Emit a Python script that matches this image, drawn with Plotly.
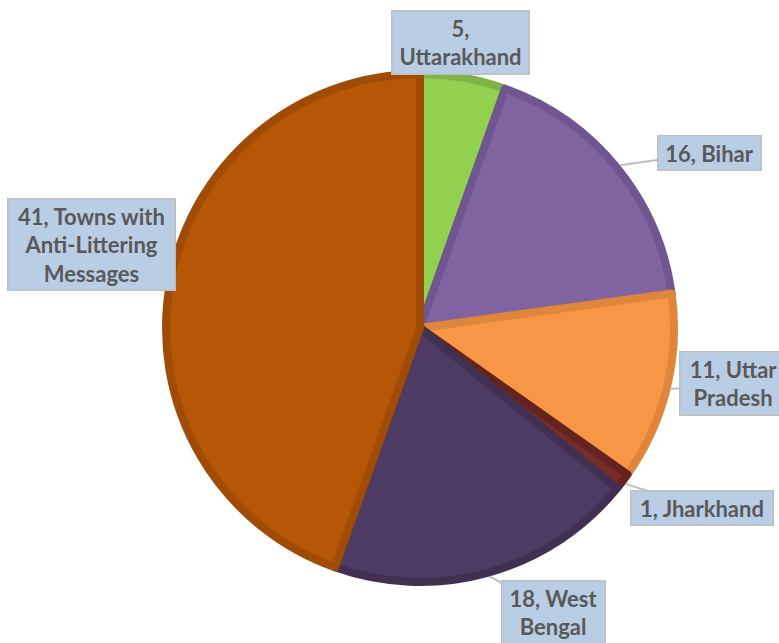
import math
import plotly.graph_objects as go

# ---- data ----
states = ["Uttarakhand", "Bihar", "Uttar Pradesh", "Jharkhand", "West Bengal",
          "Towns with Anti-Littering Messages"]
towns = [5, 16, 11, 1, 18, 41]
label_texts = ["5,<br>Uttarakhand", "16, Bihar", "11, Uttar<br>Pradesh",
               "1, Jharkhand", "18, West<br>Bengal",
               "41, Towns with<br>Anti-Littering<br>Messages"]

fill_colors = ["#92d050", "#8064a2", "#f79646", "#772c2a", "#4d3b63", "#b65708"]
edge_colors = ["#7db445", "#6f5690", "#e0863c", "#65231f", "#403153", "#a04b06"]

W, H = 779, 643
CX, CY, R = 420, 328, 258      # pie centre / outer radius in pixels
LW = 8                          # slice border width

# label box centres (pixels) and text widths
box_centres = [(461, 43), (709, 153), (733, 383), (702, 508), (553, 612), (91, 244)]
box_widths = [130, 96, 100, 135, 96, 160]

r_in = R - LW / 2
fig = go.Figure(go.Pie(
    labels=states,
    values=towns,
    sort=False,
    direction="clockwise",
    rotation=0,
    textinfo="none",
    hoverinfo="label+value",
    marker=dict(colors=fill_colors, line=dict(color=edge_colors, width=LW)),
    domain=dict(x=[(CX - r_in) / W, (CX + r_in) / W],
                y=[(H - CY - r_in) / H, (H - CY + r_in) / H]),
    showlegend=False,
))

total = sum(towns)
cum = 0
annotations = []
for v, txt, (bx, by), bw in zip(towns, label_texts, box_centres, box_widths):
    theta = 2 * math.pi * (cum + v / 2) / total
    cum += v
    tx = CX + R * math.sin(theta)
    ty = CY - R * math.cos(theta)
    annotations.append(dict(
        x=tx / W, y=1 - ty / H, xref="paper", yref="paper",
        ax=bx - tx, ay=by - ty, axref="pixel", ayref="pixel",
        text=txt, showarrow=True, arrowhead=0, arrowwidth=2,
        arrowcolor="#bfbfbf", standoff=0, startstandoff=0,
        width=bw, align="center",
        bgcolor="#b9cde5", bordercolor="#bfbfbf", borderwidth=1.5, borderpad=3,
        font=dict(family="Lato", size=22, color="#595959", weight="bold"),
    ))

fig.update_layout(
    width=W, height=H,
    margin=dict(l=0, r=0, t=0, b=0),
    paper_bgcolor="white", plot_bgcolor="white",
    annotations=annotations,
)

fig.write_html("out.html",
               config={"displayModeBar": False},
               post_script="document.body.style.margin='0';"
                           "document.body.style.overflow='hidden';")
